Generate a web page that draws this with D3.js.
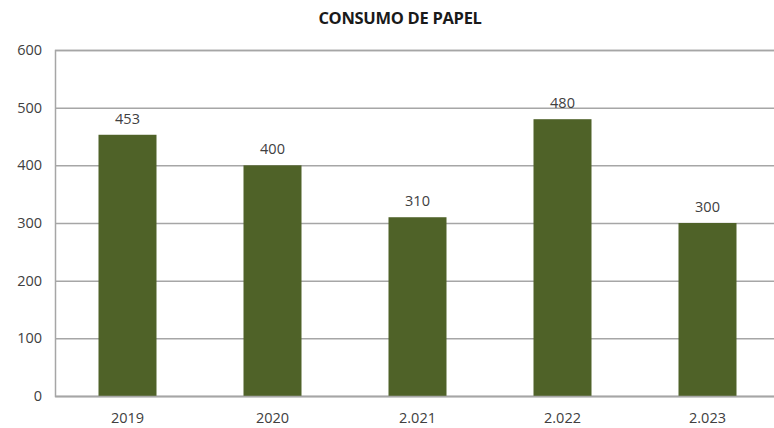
<!DOCTYPE html>
<html><head><meta charset="utf-8">
<script src="https://cdn.jsdelivr.net/npm/d3@7"></script>
<style>body{margin:0;background:#fff;} svg{display:block;}</style>
</head><body>
<svg id="c" width="774" height="428"></svg>
<script>
const categories = ["2019","2020","2.021","2.022","2.023"];
const values = [453,400,310,480,300];
const yTicks = [0,100,200,300,400,500,600];
const title = "CONSUMO DE PAPEL";

const svg = d3.select("#c");
const font = "'Open Sans', 'Liberation Sans', sans-serif";
const mLeft = 55, mRight = 780, mTop = 50, mBottom = 396;
const x = d3.scaleBand().domain(categories).range([mLeft, mRight]).paddingInner(0.6).paddingOuter(0.3);
const y = d3.scaleLinear().domain([0,600]).range([mBottom, mTop]);

svg.append("text").attr("x", 400).attr("y", 24).attr("text-anchor","middle")
  .attr("font-family", font).attr("font-weight","bold").attr("font-size", 16.5).attr("fill","#1a1a1a")
  .attr("letter-spacing", -0.3)
  .text(title);

const yAxis = d3.axisLeft(y).tickValues(yTicks).tickSize(-(mRight-mLeft)).tickPadding(13);
const ga = svg.append("g").attr("transform", `translate(${mLeft},0)`).call(yAxis);
ga.select(".domain").attr("stroke","#a6a6a6").attr("stroke-width",1.5);
ga.selectAll(".tick line").attr("stroke","#a6a6a6").attr("stroke-width",1.5);
ga.selectAll(".tick text").attr("font-family", font).attr("font-size", 14.5).attr("fill","#404040");

svg.selectAll("rect.bar").data(values).enter().append("rect").attr("class","bar")
  .attr("x",(d,i)=>x(categories[i])).attr("width", x.bandwidth())
  .attr("y", d=>y(d)).attr("height", d=>y(0)-y(d)).attr("fill","#4f6228");

svg.selectAll("text.val").data(values).enter().append("text").attr("class","val")
  .attr("x",(d,i)=>x(categories[i])+x.bandwidth()/2).attr("y", d=>y(d)-11)
  .attr("text-anchor","middle").attr("font-family", font).attr("font-size", 14.5).attr("fill","#404040")
  .text(d=>d);

const xAxis = d3.axisBottom(x).tickSize(0).tickPadding(17);
const gx = svg.append("g").attr("transform", `translate(0,${mBottom})`).call(xAxis);
gx.select(".domain").attr("stroke","#a6a6a6").attr("stroke-width",1.5);
gx.selectAll(".tick text").attr("font-family", font).attr("font-size", 14.5).attr("fill","#404040");
</script>
</body></html>
